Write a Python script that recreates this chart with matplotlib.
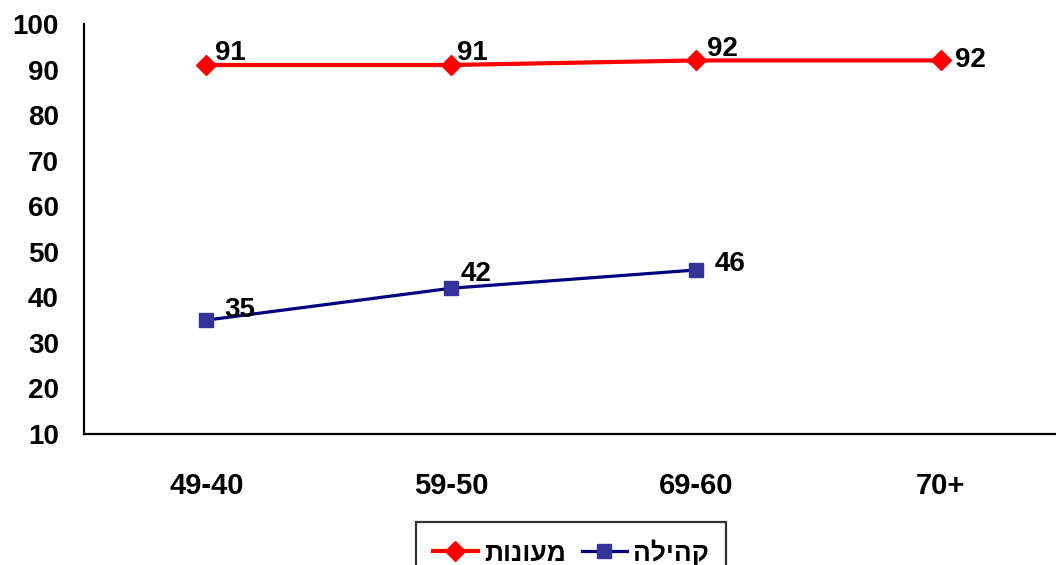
import matplotlib
matplotlib.use("Agg")
import matplotlib.pyplot as plt
import numpy as np

plt.rcParams['font.family'] = ['Liberation Sans', 'DejaVu Sans']
plt.rcParams['font.weight'] = 'bold'

categories = ["49-40", "59-50", "69-60", "70+"]
meonot = [91, 91, 92, 92]
kehila = [35, 42, 46, np.nan]
# matplotlib has no bidi support, so the Hebrew is given in visual order
label_meonot = "מעונות"[::-1]
label_kehila = "קהילה"[::-1]

# label offsets in points (dx, dy), as placed in the original
meonot_offsets = [(6, 9), (4, 9), (8, 8), (10, 0)]
kehila_offsets = [(13, 7), (7, 10), (13, 4), (0, 0)]

fig = plt.figure(figsize=(10.56, 5.65), dpi=100)
ax = fig.add_axes([84 / 1056, 1 - 434 / 565, 1 - 84 / 1056, (434 - 24) / 565])

x = np.arange(len(categories))
red, = ax.plot(x, meonot, color="#ff0000", lw=3, marker="D", markersize=10,
               markerfacecolor="#ff0000", markeredgecolor="#ff0000")
blue, = ax.plot(x, kehila, color="#000080", lw=2.3, marker="s", markersize=10,
                markerfacecolor="#333399", markeredgecolor="#333399")

for i, v in enumerate(meonot):
    ax.annotate(str(v), (x[i], v), xytext=meonot_offsets[i], textcoords="offset points",
                ha="left", va="center", fontsize=20, fontweight="bold")
for i, v in enumerate(kehila):
    if np.isnan(v):
        continue
    ax.annotate(str(int(v)), (x[i], v), xytext=kehila_offsets[i], textcoords="offset points",
                ha="left", va="center", fontsize=20, fontweight="bold")

ax.set_xlim(-0.5, 3.47)
ax.set_ylim(10, 100)
ax.set_yticks(range(10, 101, 10))
ax.set_xticks(x)
ax.set_xticklabels(categories)
ax.tick_params(axis="y", length=0, labelsize=20, pad=18)
ax.tick_params(axis="x", length=0, labelsize=21, pad=27)
for lab in ax.get_xticklabels() + ax.get_yticklabels():
    lab.set_fontweight("bold")

ax.spines["top"].set_visible(False)
ax.spines["right"].set_visible(False)
ax.spines["left"].set_linewidth(1.6)
ax.spines["bottom"].set_linewidth(1.6)

leg = fig.legend([red, blue], [label_meonot, label_kehila], ncol=2,
                 loc="upper center", bbox_to_anchor=(571 / 1056, 1 - 522 / 565),
                 borderaxespad=0, frameon=True, fancybox=False, edgecolor="black",
                 prop={"size": 19, "weight": "bold"}, handlelength=1.7,
                 columnspacing=0.6, handletextpad=0.25, borderpad=0.65)
leg.get_frame().set_linewidth(1.6)

fig.savefig("out.png", dpi=100)
